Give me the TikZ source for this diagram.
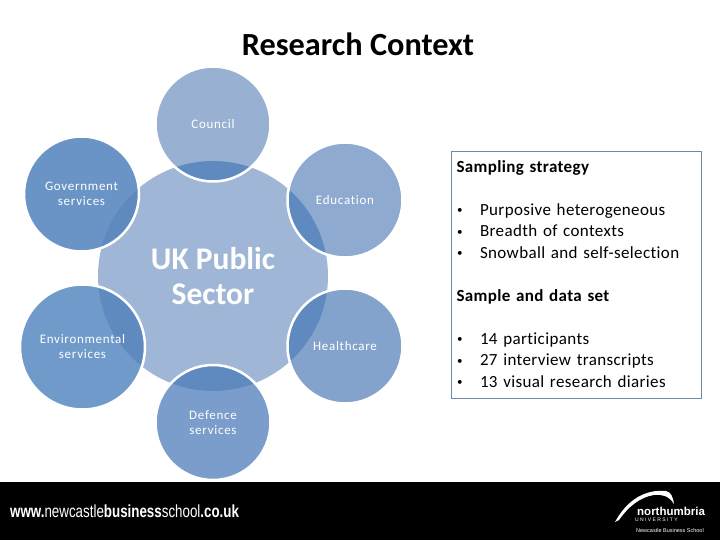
\documentclass[tikz,border=0pt]{standalone}
\usepackage{graphicx}
\usepackage{fontspec}
\setmainfont{Carlito}
\newfontfamily\spacedfont[LetterSpace=2.2,Ligatures=NoCommon]{Carlito}
\newfontfamily\smallfont[LetterSpace=5.5,Ligatures=NoCommon]{Carlito}
\newfontfamily\webfont{Liberation Sans}
\usetikzlibrary{positioning}

\definecolor{hubblue}{HTML}{A0B6D6}
\definecolor{overlapblue}{HTML}{5F8ABF}
\definecolor{boxline}{HTML}{6E8CA8}
\definecolor{councilblue}{HTML}{98B1D2}
\definecolor{govblue}{HTML}{6A94C6}
\definecolor{envblue}{HTML}{709AC9}
\definecolor{edublue}{HTML}{8FAAD0}
\definecolor{healthblue}{HTML}{84A3CC}
\definecolor{defenceblue}{HTML}{7A9DCB}

\newcommand{\bul}{\makebox[23.5pt][l]{\hspace{0.5pt}\raisebox{1.5pt}{\fontsize{11}{11}\selectfont•}}}

\tikzset{
    hub/.style = {circle, fill=hubblue, minimum size=230pt, inner sep=0pt, outer sep=0pt,
        text=white, align=center, font=\fontsize{31.5}{35.5}\selectfont\bfseries},
    sector/.style = {circle, draw=white, line width=2.5pt, minimum size=115pt, inner sep=0pt, outer sep=0pt,
        text=white, align=center, font=\fontsize{13}{15}\selectfont\smallfont,
        path picture={\fill[overlapblue] (hub.center) circle (115pt);}},
    weblabel/.style = {text=white, inner sep=0pt}
}

\begin{document}
\begin{tikzpicture}[x=1pt, y=-1pt, node distance = -20.5pt]
        \useasboundingbox (0,0) rectangle (720,540);
        \fill[white] (0,0) rectangle (720,540);

        % Footer
        \fill[black] (0,482) rectangle (720,540);
        \node[weblabel, anchor=west] (web) at (10,511)
            {\scalebox{0.763}[1]{\webfont\fontsize{17.5}{20}\selectfont\textbf{www.}newcastle\textbf{business}school\textbf{.co.uk}}};
        \fill[white] (615,522) .. controls (627,500) and (645,489) .. (666,491)
            .. controls (671,492) and (673,497) .. (674,504)
            .. controls (669,496) and (662,494) .. (654,495)
            .. controls (640,497) and (628,507) .. (619,520) -- cycle;
        \node[weblabel, anchor=west] (uni) at (637,511)
            {\webfont\bfseries\fontsize{11.5}{12}\selectfont northumbria};
        \node[weblabel, anchor=west] (unisub) at (635,519.5)
            {\webfont\fontsize{5}{6}\selectfont U\ N\ I\ V\ E\ R\ S\ I\ T\ Y};
        \node[weblabel, anchor=west] (school) at (636,530.5)
            {\webfont\fontsize{5.5}{6}\selectfont Newcastle Business School};

        % Place nodes
        \node (title) at (358,44) {\fontsize{32.3}{35}\selectfont\bfseries Research Context};
        \node[hub] (hub) at (213,276) {UK Public\\Sector};
        \node[sector, fill=councilblue] (council) [above=of hub] {Council};
        \node[sector, fill=defenceblue] (defence) [below=-26pt of hub] {Defence\\services};
        \node[sector, fill=govblue] (gov) at (81.5,194) {Government\\services};
        \node[sector, fill=envblue, minimum size=125pt] (env) at (82.5,347) {Environmental\\services};
        \node[sector, fill=edublue] (edu) at (345,200) {Education};
        \node[sector, fill=healthblue] (health) at (345,346) {Healthcare};

        % Text box
        \node[draw=boxline, line width=1pt, minimum width=250pt, minimum height=247pt,
              anchor=north west, inner xsep=5pt, inner ysep=2pt, text width=240pt, align=left,
              font=\fontsize{17}{21.5}\selectfont\spacedfont] (sampling) at (451,151)
            {\textbf{Sampling strategy}\\[21.5pt]
             \bul Purposive heterogeneous\\
             \bul Breadth of contexts\\
             \bul Snowball and self-selection\\[21.5pt]
             \textbf{Sample and data set}\\[21.5pt]
             \bul 14 participants\\
             \bul 27 interview transcripts\\
             \bul 13 visual research diaries\rule[-2pt]{0pt}{0pt}};
    \end{tikzpicture}
\end{document}
